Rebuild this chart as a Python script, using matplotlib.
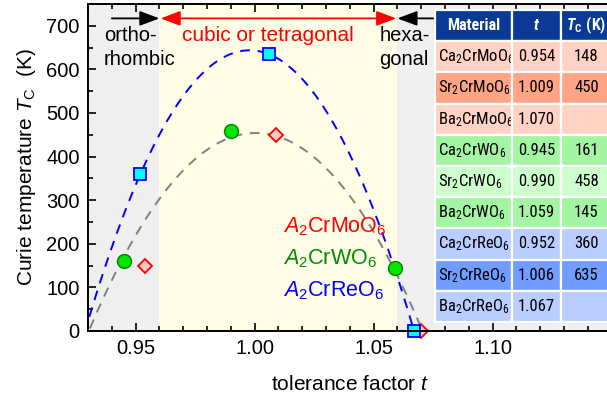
import numpy as np
import matplotlib
matplotlib.use("Agg")
import matplotlib.pyplot as plt
from matplotlib import font_manager as fm

# ---------------------------------------------------------------- data
materials = [
    "Ca2CrMoO6", "Sr2CrMoO6", "Ba2CrMoO6",
    "Ca2CrWO6", "Sr2CrWO6", "Ba2CrWO6",
    "Ca2CrReO6", "Sr2CrReO6", "Ba2CrReO6",
]
tol_mo = [0.954, 1.009, 1.070]
tc_mo = [148, 450, None]          # None: no ferromagnetic order (plotted at 0 K)
tol_w = [0.945, 0.990, 1.059]
tc_w = [161, 458, 145]
tol_re = [0.952, 1.006, 1.067]
tc_re = [360, 635, None]

# guide-to-the-eye curve for the Mo/W compounds (t, Tc samples)
guide_t = [0.930, 0.9448, 0.960, 0.9712, 0.9796, 0.9894, 0.9978, 1.009,
           1.0188, 1.030, 1.0412, 1.051, 1.0587, 1.0685, 1.071]
guide_tc = [0, 162, 303, 375, 418, 440, 450, 447, 429, 375, 299, 215, 147, 17, 0]

phase_bounds = [0.96, 1.06]       # orthorhombic | cubic/tetragonal | hexagonal
x_ticks = [0.95, 1.00, 1.05, 1.10]
y_ticks = [0, 100, 200, 300, 400, 500, 600, 700]

# ---------------------------------------------------------------- fonts
names = {f.name for f in fm.fontManager.ttflist}
NARROW = "Liberation Sans"
for cand in ["Liberation Sans Narrow", "Arial Narrow", "Roboto Condensed",
             "Archivo Narrow", "Noto Sans Condensed", "PT Sans Narrow",
             "Fira Sans Condensed"]:
    if cand in names:
        NARROW = cand
        break

plt.rcParams.update({
    "font.family": ["Liberation Sans", "DejaVu Sans"],
    "mathtext.fontset": "custom",
    "mathtext.rm": "Liberation Sans",
    "mathtext.it": "Liberation Sans:italic",
    "mathtext.sf": NARROW,
    "mathtext.bf": NARROW + ":bold",
    "mathtext.bfit": NARROW + ":italic:bold",
})


def tc_plot(vals):
    return [0 if v is None else v for v in vals]


fig = plt.figure(figsize=(6.07, 4.00), dpi=100)
ax = fig.add_axes([0.145, 0.1725, 0.8626, 0.8175])
ax.set_xlim(0.93, 1.15)
ax.set_ylim(0, 750)

# phase regions
ax.axvspan(0.93, phase_bounds[0], color="#efefef", lw=0, zorder=0)
ax.axvspan(phase_bounds[0], phase_bounds[1], color="#fffde6", lw=0, zorder=0)
ax.axvspan(phase_bounds[1], 1.15, color="#efefef", lw=0, zorder=0)

# quadratic curves
tt = np.linspace(0.92, 1.08, 300)
fit_re = np.polyfit(tol_re, tc_plot(tc_re), 2)
fit_guide = np.polyfit(guide_t, guide_tc, 2)
ax.plot(tt, np.polyval(fit_guide, tt), ls=(0, (5, 4)), color="#808080", lw=1.4, zorder=2)
ax.plot(tt, np.polyval(fit_re, tt), ls=(0, (5, 4)), color="#0000ff", lw=1.4, zorder=2)

# data points
ax.plot(tol_mo, tc_plot(tc_mo), ls="none", marker="D", ms=7.5, mfc="#ffc8c8",
        mec="#ff0000", mew=1.3, zorder=4, clip_on=False)
ax.plot(tol_w, tc_plot(tc_w), ls="none", marker="o", ms=10, mfc="#00e600",
        mec="#008000", mew=1.0, zorder=5, clip_on=False)
ax.plot(tol_re, tc_plot(tc_re), ls="none", marker="s", ms=8.5, mfc="#00ffff",
        mec="#0000ff", mew=1.3, zorder=6, clip_on=False)

# phase arrows
ya = 717
ahead = "head_length=1.2,head_width=0.45"
ax.annotate("", xy=(phase_bounds[0], ya), xytext=(0.940, ya),
            arrowprops=dict(arrowstyle="-|>," + ahead, color="black", lw=1.3,
                            shrinkA=0, shrinkB=0), zorder=3)
ax.annotate("", xy=(phase_bounds[1] - 0.0005, ya), xytext=(phase_bounds[0] + 0.0005, ya),
            arrowprops=dict(arrowstyle="<|-|>," + ahead, color="#ff0000", lw=1.3,
                            shrinkA=0, shrinkB=0), zorder=3)
ax.annotate("", xy=(phase_bounds[1], ya), xytext=(1.08, ya),
            arrowprops=dict(arrowstyle="-|>," + ahead, color="black", lw=1.3,
                            shrinkA=0, shrinkB=0), zorder=3)

ax.text(0.9367, 699, "ortho-\nrhombic", fontsize=14.5, va="top", ha="left",
        linespacing=1.3, zorder=3)
ax.text(1.0056, 699, "cubic or tetragonal", fontsize=15, va="top", ha="center",
        color="#ff0000", zorder=3)
ax.text(1.0525, 699, "hexa-\ngonal", fontsize=14.5, va="top", ha="left",
        linespacing=1.3, zorder=3)

# series labels
label_size = 15.5
ax.text(1.012, 240, r"$\mathit{A}_2\mathrm{CrMoO}_6$", color="#ff0000",
        fontsize=label_size, va="center", ha="left", zorder=3)
ax.text(1.012, 165, r"$\mathit{A}_2\mathrm{CrWO}_6$", color="#008c00",
        fontsize=label_size, va="center", ha="left", zorder=3)
ax.text(1.012, 93, r"$\mathit{A}_2\mathrm{CrReO}_6$", color="#0000ff",
        fontsize=label_size, va="center", ha="left", zorder=3)

# axes styling
ax.set_xticks(x_ticks)
ax.set_xticklabels([f"{v:.2f}" for v in x_ticks])
ax.set_xticks(np.arange(0.93, 1.1501, 0.01), minor=True)
ax.set_yticks(y_ticks)
ax.set_yticks(np.arange(0, 751, 50), minor=True)
ax.tick_params(which="both", direction="in", top=True, right=True, width=1.2,
               labelsize=14.5, pad=6)
ax.tick_params(which="major", length=6)
ax.tick_params(which="minor", length=3.5)
for s in ax.spines.values():
    s.set_linewidth(1.4)
    s.set_zorder(7)
ax.set_xlabel(r"tolerance factor $t$", fontsize=15, labelpad=12)
ax.set_ylabel(r"Curie temperature $T_\mathrm{C}$  (K)", fontsize=15, labelpad=6)

# table
def chem(name):
    out = ""
    for ch in name:
        out += r"_\mathsf{%s}" % ch if ch.isdigit() else r"\mathsf{%s}" % ch
    return "$" + out + "$"

tol_all = tol_mo + tol_w + tol_re
tc_all = tc_mo + tc_w + tc_re
cell_text = [[chem(m), f"{t:.3f}", "" if c is None else str(c)]
             for m, t, c in zip(materials, tol_all, tc_all)]
row_colors = ["#ffd2c3", "#ffa586", "#ffd2c3",
              "#a3f5a3", "#ccffcc", "#a3f5a3",
              "#b9cdff", "#709dff", "#b9cdff"]
header = ["Material", r"$\mathbfit{t}$", r"$\mathbfit{T}_\mathbf{C}\ \mathbf{(K)}$"]


def ax_frac_x(px):
    return (px - 88) / 523.6


tbl = ax.table(cellText=cell_text, colLabels=header,
               cellColours=[[c] * 3 for c in row_colors],
               colColours=["#0a3a96"] * 3, cellLoc="center",
               colWidths=[77, 49, 51],
               bbox=[ax_frac_x(435), 9 / 327, 177 / 523.6, 312 / 327], zorder=8)
tbl.auto_set_font_size(False)
for (r, c), cell in tbl.get_celld().items():
    cell.set_edgecolor("white")
    cell.set_linewidth(1.6)
    txt = cell.get_text()
    txt.set_fontsize(12)
    txt.set_fontfamily(NARROW)
    if r == 0:
        txt.set_color("white")
        txt.set_fontweight("bold")
        txt.set_fontsize(11.5)
    if c == 0 and r > 0:
        txt.set_ha("left")
        cell.PAD = 0.04

fig.savefig("out.png", dpi=100)
